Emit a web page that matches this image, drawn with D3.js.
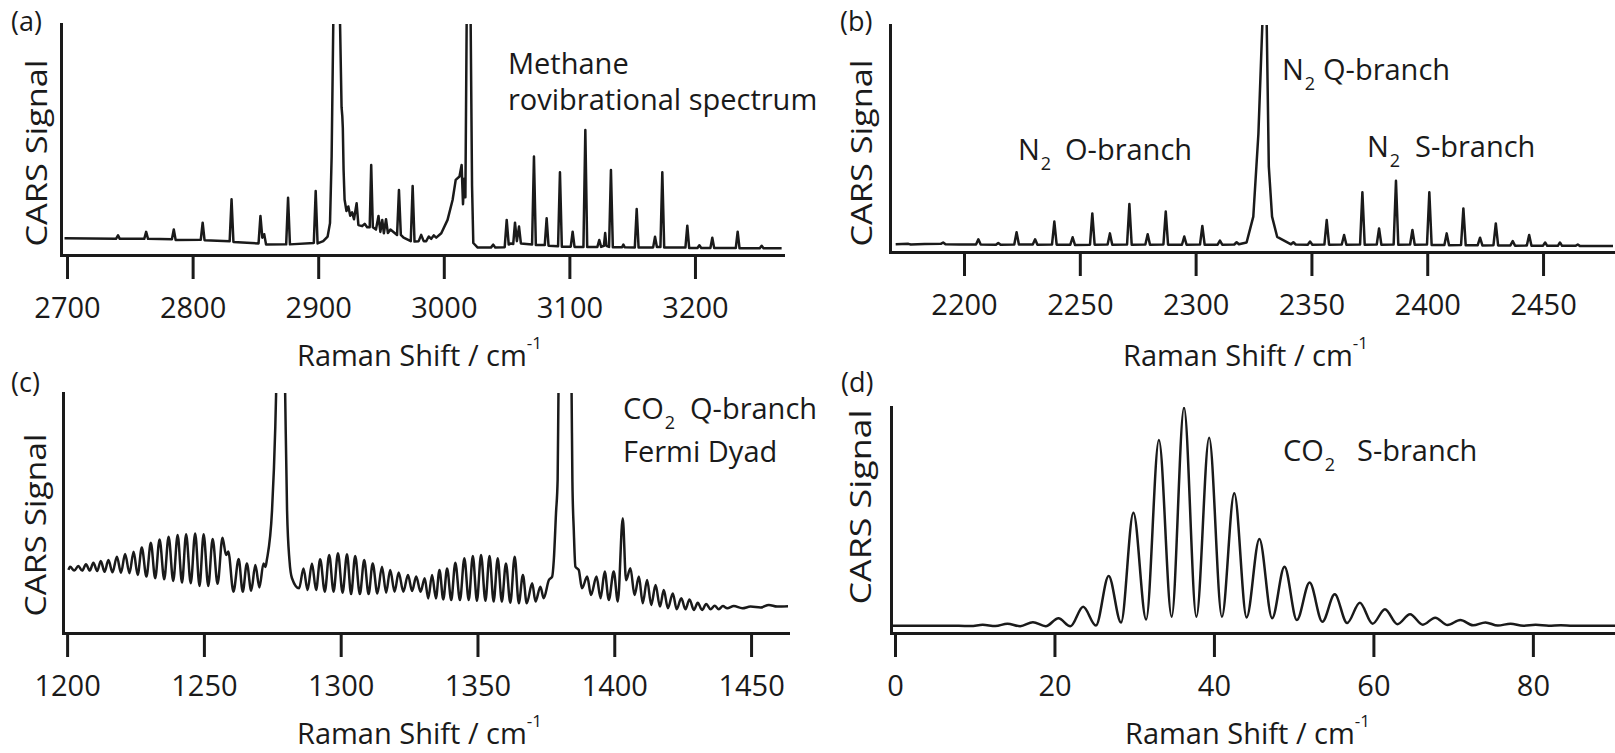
<!DOCTYPE html>
<html>
<head>
<meta charset="utf-8">
<script src="https://cdn.jsdelivr.net/npm/d3@7"></script>
<style>
  html, body { margin: 0; padding: 0; background: #fff; }
  svg { display: block; font-family: "Open Sans", "Noto Sans", sans-serif; }
</style>
</head>
<body>
<svg id="fig" width="1615" height="753"></svg>
<script>
// ---------------------------------------------------------------
// Spectra as [Raman shift (cm^-1), CARS signal (% of panel full scale)]
// ---------------------------------------------------------------

// (a) methane rovibrational spectrum
const methaneSpectrum = [
  [2698, 7.2], [2739, 7.0], [2740.6, 8.5], [2742, 7.0],
  [2761.5, 7.0], [2763, 10.0], [2764.5, 7.0],
  [2783.5, 6.8], [2785, 11.0], [2786.5, 6.5],
  [2806.5, 6.6], [2808, 14.0], [2809.5, 6.4],
  [2829.5, 6.0], [2831, 24.1], [2832.5, 5.6],
  [2852.5, 5.0], [2854, 16.9], [2855.5, 7.5], [2857, 9.0], [2858.5, 4.5],
  [2874.5, 4.6], [2876, 24.8], [2877.5, 4.6],
  [2896.5, 5.2], [2898, 27.7], [2899.5, 5.0],
  [2904, 6.0], [2907.5, 8.0], [2909.4, 13.8], [2910.7, 42.6], [2912, 100], [2914.7, 200],
  [2917.4, 100], [2918.6, 64], [2919.2, 60], [2919.6, 55], [2920.2, 37], [2921, 24],
  [2922.5, 19], [2924, 21], [2925.5, 17], [2927, 18.5], [2928.5, 15.5],
  [2930.6, 22.4], [2932, 13], [2935, 12.5], [2937, 13.5], [2939, 12],
  [2941, 12], [2942.2, 39], [2943.5, 12],
  [2946, 11], [2948, 16.9], [2949.5, 10], [2951, 15.2], [2952.3, 9.4], [2954, 15.5], [2955.5, 9.5], [2957.5, 11],
  [2962.8, 8.7], [2964.3, 28.1], [2965.8, 8.7],
  [2968, 7.5], [2973.7, 6.0], [2975.2, 29.9], [2976.7, 5.8],
  [2980, 6.0], [2982, 8.7], [2984, 6.0], [2986, 6.0], [2988, 8.0], [2990, 7.0], [2992, 8.5], [2994, 7.5],
  [2998, 9.4], [3003, 15.2], [3007, 23.8], [3009.5, 32.5], [3012.5, 34], [3014.2, 39],
  [3015.3, 22], [3016.3, 33], [3017.2, 25], [3018.2, 100], [3019.8, 200], [3021.4, 100],
  [3022.5, 30], [3023.5, 5.2], [3027, 3.2],
  [3037.5, 3.2], [3039.4, 4.5], [3041, 3.2],
  [3048.5, 3.4], [3050.1, 15.2], [3051.7, 4.5], [3053.5, 5.0], [3055.3, 4.8], [3056.7, 14.0],
  [3058.2, 6.0], [3059.9, 12.3], [3061.4, 5.0],
  [3070.3, 4.5], [3071.8, 42.6], [3073.3, 4.3],
  [3080.4, 4.3], [3081.9, 15.9], [3083.4, 4.0],
  [3091, 3.8], [3092.5, 35.8], [3094, 3.6],
  [3101.1, 3.6], [3102.6, 10.1], [3104.1, 3.5],
  [3111.2, 3.5], [3112.7, 54.1], [3114.2, 3.5],
  [3122.3, 3.5], [3123.8, 6.5], [3125.3, 3.5], [3127.5, 4.0], [3128.5, 9.5], [3129.5, 4.0],
  [3131.6, 3.5], [3133.1, 36.8], [3134.6, 3.4],
  [3142, 3.4], [3143, 4.5], [3144, 3.4],
  [3152.1, 3.3], [3153.6, 19.9], [3155.1, 3.3],
  [3166.7, 3.3], [3168.2, 7.9], [3169.7, 3.5], [3172.5, 3.5], [3174, 35.8], [3175.5, 3.3],
  [3192.4, 3.2], [3193.9, 12.7], [3195.4, 3.0],
  [3202, 3.0], [3203.5, 4.2], [3205, 3.0],
  [3212.3, 3.0], [3213.8, 7.5], [3215.3, 3.0],
  [3232.5, 3.0], [3234, 10.1], [3235.5, 2.9],
  [3251.6, 2.9], [3253.1, 4.0], [3254.6, 2.9],
  [3269, 2.9]
];
const methaneTicks = [2700, 2800, 2900, 3000, 3100, 3200];

// (b) nitrogen O-, Q- and S-branches
const nitrogenSpectrum = [
  [2170.5, 3.4], [2176, 3.6], [2177, 3.3], [2183, 3.5], [2190, 3.6], [2191, 4.2], [2192, 3.4], [2198, 3.3],
  [2205.2, 3.3], [2206.2, 5.6], [2207.2, 3.3],
  [2213.8, 3.2], [2214.8, 4.0], [2215.8, 3.2],
  [2221.7, 3.3], [2222.7, 8.7], [2223.7, 3.3],
  [2229.7, 3.3], [2230.7, 5.6], [2231.7, 3.2],
  [2238, 3.3], [2239, 13.4], [2240, 3.2],
  [2245.9, 3.2], [2246.9, 6.5], [2247.9, 3.1],
  [2254.4, 3.2], [2255.4, 17.0], [2256.4, 3.2],
  [2262, 3.3], [2263, 8.2], [2264, 3.2],
  [2270.4, 3.3], [2271.4, 21.1], [2272.4, 3.2],
  [2278.3, 3.3], [2279.3, 7.8], [2280.3, 3.2],
  [2286.1, 3.3], [2287.1, 17.8], [2288.1, 3.2],
  [2294.1, 3.2], [2295.1, 6.8], [2296.1, 3.2],
  [2301.9, 3.3], [2302.9, 11.5], [2303.9, 3.2],
  [2309.5, 3.2], [2310.5, 5.0], [2311.5, 3.2],
  [2316.7, 3.3], [2317.7, 4.3], [2318.7, 3.4],
  [2322, 4.2], [2324.9, 15.6], [2327.1, 52], [2328.8, 100], [2329.75, 160], [2330.7, 100],
  [2331.6, 37.6], [2333, 15.6], [2335.2, 6.7], [2339, 4.6],
  [2341.2, 3.4], [2342.2, 4.3], [2343.2, 3.3],
  [2348.4, 3.2], [2349.4, 4.6], [2350.4, 3.2],
  [2355.6, 3.3], [2356.6, 14.1], [2357.6, 3.2],
  [2363.1, 3.3], [2364.1, 7.5], [2365.1, 3.2],
  [2371, 3.3], [2372, 26.3], [2373, 3.2],
  [2378.2, 3.3], [2379.2, 10.4], [2380.2, 3.2],
  [2385.5, 3.3], [2386.5, 31.4], [2387.5, 3.2],
  [2392.6, 3.3], [2393.6, 9.7], [2394.6, 3.2],
  [2399.9, 3.3], [2400.9, 26.3], [2401.9, 3.1],
  [2407.4, 3.1], [2408.4, 8.2], [2409.4, 3.0],
  [2414.6, 3.1], [2415.6, 19.2], [2416.6, 3.0],
  [2421.8, 3.0], [2422.8, 6.3], [2423.8, 2.9],
  [2428.6, 3.0], [2429.6, 12.6], [2430.6, 2.9],
  [2435.9, 2.9], [2436.9, 4.8], [2437.9, 2.8],
  [2443, 2.9], [2444, 7.5], [2445, 2.8],
  [2450, 2.8], [2450.9, 4.2], [2451.8, 2.7],
  [2456.4, 2.7], [2457.3, 4.2], [2458.2, 2.7],
  [2464, 2.7], [2465, 3.3], [2466, 2.6],
  [2480.2, 2.6]
];
const nitrogenTicks = [2200, 2250, 2300, 2350, 2400, 2450];

// (c) CO2 Q-branch Fermi dyad with hot-band structure
const co2FermiSpectrum = [
  [1200.5, 26.3], [1201.1, 27.6], [1202.6, 26.0], [1204.1, 27.9], [1205.5, 26.0], [1206.9, 28.6],
  [1208.3, 26.0], [1209.6, 29.3], [1211.0, 25.8], [1212.3, 30.0], [1213.7, 25.5], [1215.1, 30.4],
  [1216.6, 25.3], [1218.2, 31.8], [1219.7, 25.1], [1221.2, 32.9], [1222.8, 24.9], [1224.3, 33.9],
  [1225.8, 24.2], [1227.3, 35.6], [1229.0, 23.5], [1230.6, 37.6], [1232.2, 22.8], [1233.8, 39.0],
  [1235.5, 22.4], [1237.1, 40.1], [1238.8, 21.7], [1240.4, 40.8], [1242.0, 21.0], [1243.5, 41.1],
  [1245.2, 20.7], [1246.8, 41.5], [1248.4, 19.6], [1249.9, 41.1], [1251.6, 19.6], [1253.2, 39.2],
  [1255.0, 20.5], [1256.8, 39.7], [1258.1, 32.5], [1258.9, 34.0], [1260.8, 17.2], [1262.7, 30.8],
  [1264.2, 17.2], [1265.7, 29.0], [1267.3, 17.6], [1268.8, 28.3], [1270.3, 19.0], [1271.8, 29.0],
  [1272.5, 27.5], [1273.0, 30.4], [1274.9, 51], [1276.1, 86], [1276.4, 100], [1278.05, 220],
  [1279.7, 100], [1280.4, 51], [1281.3, 30], [1282.2, 22.8],
  [1284.8, 18.6], [1286.4, 26.9], [1287.9, 17.9], [1289.5, 29.0], [1291.0, 17.9], [1292.5, 30.7],
  [1294.2, 17.2], [1295.8, 32.5], [1297.4, 17.2], [1299.0, 33.2], [1300.7, 16.8], [1302.3, 32.8],
  [1303.8, 16.2], [1305.3, 32.1], [1307.0, 16.2], [1308.6, 30.4], [1310.2, 16.2], [1311.7, 29.0],
  [1313.4, 16.5], [1315.1, 27.6], [1316.6, 16.8], [1318.1, 26.3], [1319.7, 17.2], [1321.2, 25.2],
  [1322.9, 17.2], [1324.6, 24.2], [1326.1, 17.5], [1327.6, 23.5], [1329.2, 17.2], [1330.7, 22.8],
  [1332.0, 14.4], [1333.4, 24.2], [1334.8, 14.4], [1336.1, 26.3], [1337.5, 14.0], [1338.9, 26.9],
  [1340.4, 13.7], [1341.9, 29.3], [1343.6, 13.7], [1345.2, 31.1], [1346.8, 13.7], [1348.3, 32.1],
  [1349.8, 13.4], [1351.3, 32.5], [1352.9, 13.4], [1354.4, 32.1], [1355.9, 13.1], [1357.4, 31.1],
  [1358.9, 13.1], [1360.4, 29.0], [1362.0, 12.6], [1363.6, 31.8], [1365.1, 12.4], [1366.6, 24.2],
  [1368.0, 12.4], [1370.0, 20.7], [1371.2, 13.1], [1373.0, 19.3], [1374.2, 14.5], [1376.1, 22.1],
  [1377.3, 23.5], [1377.9, 30.4], [1378.7, 49.9], [1379.3, 64], [1379.6, 100], [1382.1, 220],
  [1384.4, 100], [1384.7, 63], [1385.2, 42.9], [1385.8, 27.6], [1387.0, 26.3], [1388.2, 18.6],
  [1390.1, 23.5], [1391.5, 15.8], [1393.5, 23.5], [1395.0, 14.5], [1396.5, 25.6], [1398.0, 13.8],
  [1399.8, 25.6], [1401.3, 13.1], [1403.1, 47.8], [1404.3, 22.0], [1405.9, 27.0], [1407.4, 15.8],
  [1409.0, 23.5], [1410.4, 12.4], [1412.0, 22.1], [1413.5, 11.7], [1415.1, 20.0], [1416.7, 11.0],
  [1418.1, 17.9], [1419.6, 10.3], [1421.4, 16.5], [1422.8, 9.9], [1424.5, 14.5], [1426.0, 9.9],
  [1427.5, 14.0], [1429.1, 9.6], [1430.5, 12.6], [1432.1, 9.6], [1433.6, 12.1], [1435.2, 9.9],
  [1436.7, 11.4], [1438.2, 9.9], [1439.7, 11.2], [1441.3, 10.3], [1443.7, 11.2], [1446.8, 10.3],
  [1449.8, 11.0], [1453.5, 10.6], [1456.5, 11.7], [1459.5, 11.0], [1463.8, 11.2]
];
const co2FermiTicks = [1200, 1250, 1300, 1350, 1400, 1450];

// (d) CO2 pure-rotational S-branch
const co2RotSpectrum = [
  [-0.3, 3.2], [8, 3.2], [9.5, 3.1], [11.0, 3.6], [12.6, 3.1], [14.1, 4.1], [15.7, 3.0],
  [17.3, 4.8], [18.9, 3.0], [20.5, 6.5], [22.0, 3.0], [23.6, 11.6], [25.2, 3.3], [26.8, 25.2],
  [28.35, 4.6], [29.9, 53.2], [31.5, 6.0], [33.1, 85.4], [34.7, 7.2], [36.25, 99.7], [37.8, 7.2],
  [39.4, 86.4], [41.0, 7.2], [42.55, 61.8], [44.1, 6.9], [45.7, 41.6], [47.3, 6.5], [48.85, 29.3],
  [50.4, 5.75], [52.0, 22.3], [53.6, 5.0], [55.15, 17.1], [56.7, 4.4], [58.3, 13.4], [59.9, 4.1],
  [61.45, 10.5], [63.0, 3.9], [64.6, 8.3], [66.2, 3.7], [67.75, 6.8], [69.3, 3.5], [70.9, 5.75],
  [72.5, 3.4], [74.05, 4.7], [75.6, 3.3], [77.2, 4.1], [78.8, 3.2], [80.35, 3.6], [82, 3.2],
  [83.5, 3.4], [85, 3.2], [90.3, 3.2]
];
const co2RotTicks = [0, 20, 40, 60, 80];

// ---------------------------------------------------------------
const svg = d3.select("#fig");
const ink = "#1a1a1a";
const FONT = 29;

function drawPanel(p) {
  const x = d3.scaleLinear().domain(p.xDomain).range([p.left, p.right]);
  const y = d3.scaleLinear().domain([0, 100]).range([p.bottom, p.top]);
  const g = svg.append("g");

  const clipId = "clip-" + p.id;
  svg.append("clipPath").attr("id", clipId).append("rect")
    .attr("x", p.left).attr("y", p.top)
    .attr("width", p.right - p.left).attr("height", p.bottom - p.top);

  g.append("path")
    .datum(p.data)
    .attr("clip-path", `url(#${clipId})`)
    .attr("fill", "none")
    .attr("stroke", ink)
    .attr("stroke-width", 2.5)
    .attr("stroke-linejoin", "round")
    .attr("d", d3.line().x(d => x(d[0])).y(d => y(d[1])).curve(p.curve));

  // x axis with long downward ticks
  const xa = g.append("g")
    .attr("transform", `translate(0,${p.bottom})`)
    .call(d3.axisBottom(x).tickValues(p.ticks).tickSize(24).tickSizeOuter(0).tickFormat(d3.format("d")));
  xa.attr("color", ink).attr("font-size", null).attr("font-family", null);
  xa.select(".domain").attr("stroke-width", 3).attr("stroke-linecap", "square");
  xa.selectAll(".tick line").attr("stroke-width", 3);
  xa.selectAll(".tick text")
    .attr("y", 63).attr("dy", 0)
    .attr("font-size", FONT)
    .attr("fill", ink);

  // bare y axis
  const ya = g.append("g")
    .attr("transform", `translate(${p.left},0)`)
    .call(d3.axisLeft(y).tickValues([]).tickSizeOuter(0));
  ya.attr("color", ink);
  ya.select(".domain").attr("stroke-width", 3).attr("stroke-linecap", "square");

  // panel letter
  svg.append("text").attr("x", p.letterX).attr("y", p.letterY)
    .attr("font-size", 27).attr("fill", ink).text(p.letter);

  // y title
  svg.append("text")
    .attr("transform", `translate(${p.yTitleX},${p.yTitleY}) rotate(-90)`)
    .attr("text-anchor", "middle")
    .attr("font-size", FONT).attr("fill", ink)
    .attr("textLength", p.yTitleLen).attr("lengthAdjust", "spacingAndGlyphs")
    .text("CARS Signal");

  // x title with superscript
  const t = svg.append("text").attr("x", p.xTitleX).attr("y", p.xTitleY)
    .attr("font-size", FONT).attr("fill", ink);
  t.append("tspan").text("Raman Shift / cm");
  t.append("tspan").attr("dy", -17).attr("font-size", 17).text("-1");
}

// annotation with a subscript: parts = [[x or null, text, isSub], ...]
function note(baseY, parts) {
  const t = svg.append("text").attr("font-size", FONT).attr("fill", ink);
  parts.forEach(([px, str, sub]) => {
    const s = t.append("tspan").attr("y", sub ? baseY + 10 : baseY)
      .attr("font-size", sub ? 18 : FONT).text(str);
    if (px === null) s.attr("dx", 1); else s.attr("x", px);
  });
}

drawPanel({
  id: "a", data: methaneSpectrum, ticks: methaneTicks, curve: d3.curveLinear,
  xDomain: [2695.2, 3270.1], left: 61, right: 783, top: 24, bottom: 255,
  letter: "(a)", letterX: 11, letterY: 31,
  yTitleX: 47, yTitleY: 153, yTitleLen: 187,
  xTitleX: 297, xTitleY: 366
});
drawPanel({
  id: "b", data: nitrogenSpectrum, ticks: nitrogenTicks, curve: d3.curveLinear,
  xDomain: [2168.05, 2480.2], left: 890, right: 1613, top: 25, bottom: 252,
  letter: "(b)", letterX: 840, letterY: 31,
  yTitleX: 872, yTitleY: 153, yTitleLen: 187,
  xTitleX: 1123, xTitleY: 366
});
drawPanel({
  id: "c", data: co2FermiSpectrum, ticks: co2FermiTicks, curve: d3.curveMonotoneX,
  xDomain: [1198.5, 1463.5], left: 63, right: 788, top: 393, bottom: 633,
  letter: "(c)", letterX: 11, letterY: 392,
  yTitleX: 46, yTitleY: 525, yTitleLen: 183,
  xTitleX: 297, xTitleY: 744
});
drawPanel({
  id: "d", data: co2RotSpectrum, ticks: co2RotTicks, curve: d3.curveMonotoneX,
  xDomain: [-0.5, 90.3], left: 891, right: 1615, top: 407, bottom: 633,
  letter: "(d)", letterX: 841, letterY: 392,
  yTitleX: 871, yTitleY: 507, yTitleLen: 195,
  xTitleX: 1125, xTitleY: 744
});

// annotations
svg.append("text").attr("x", 508).attr("y", 74).attr("font-size", FONT).attr("fill", ink).text("Methane");
svg.append("text").attr("x", 508).attr("y", 110).attr("font-size", FONT).attr("fill", ink).text("rovibrational spectrum");
note(160, [[1018, "N"], [null, "2", true], [1065, "O-branch"]]);
note(80, [[1282, "N"], [null, "2", true], [1323, "Q-branch"]]);
note(157, [[1367, "N"], [null, "2", true], [1415, "S-branch"]]);
note(419, [[623, "CO"], [null, "2", true], [690, "Q-branch"]]);
svg.append("text").attr("x", 623).attr("y", 462).attr("font-size", FONT).attr("fill", ink).text("Fermi Dyad");
note(461, [[1283, "CO"], [null, "2", true], [1357, "S-branch"]]);
</script>
</body>
</html>
